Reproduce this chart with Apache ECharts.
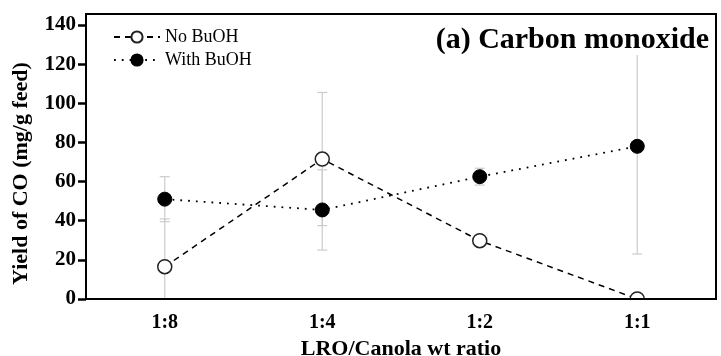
<!DOCTYPE html>
<html>
<head>
<meta charset="utf-8">
<script src="https://cdn.jsdelivr.net/npm/echarts@6/dist/echarts.min.js"></script>
<style>html,body{margin:0;padding:0;background:#fff}#c{width:721px;height:356px}</style>
</head>
<body>
<div id="c"></div>
<script>
const categories = ['1:8', '1:4', '1:2', '1:1'];
const noBuOH = [16.5, 71.5, 29.8, 0];
const noBuOHErr = [24.4, 34, 0, 0];
const withBuOH = [51, 45.5, 62.5, 78];
const withBuOHErr = [11.5, 20.5, 4.3, 55];
const yTicks = [0, 20, 40, 60, 80, 100, 120, 140];

const FONT = 'Liberation Serif';
const chart = echarts.init(document.getElementById('c'));

function errData(vals, errs) {
  return vals.map((v, i) => [i, v - errs[i], v + errs[i]]);
}
function renderErr(params, api) {
  const x = api.value(0);
  const lo = api.coord([x, api.value(1)]);
  const hi = api.coord([x, api.value(2)]);
  const hw = 5;
  const style = { stroke: '#cccccc', lineWidth: 1.2, fill: null };
  return {
    type: 'group',
    children: [
      { type: 'line', shape: { x1: lo[0], y1: lo[1], x2: hi[0], y2: hi[1] }, style },
      { type: 'line', shape: { x1: lo[0] - hw, y1: lo[1], x2: lo[0] + hw, y2: lo[1] }, style },
      { type: 'line', shape: { x1: hi[0] - hw, y1: hi[1], x2: hi[0] + hw, y2: hi[1] }, style }
    ]
  };
}

const option = {
  animation: false,
  backgroundColor: '#fff',
  grid: { left: 86, right: 5, top: 14, bottom: 57, outerBoundsMode: 'none', containLabel: false, show: true, borderColor: '#000', borderWidth: 2, backgroundColor: 'transparent' },
  title: {
    text: '(a) Carbon monoxide',
    right: 10, top: 25, padding: [0, 2, 0, 2],
    backgroundColor: '#fff',
    textStyle: { fontFamily: FONT, fontWeight: 'bold', fontSize: 30, color: '#000' }
  },
  legend: {
    data: ['No BuOH', 'With BuOH'],
    orient: 'vertical', left: 113, top: 28, padding: 0,
    itemWidth: 46, itemHeight: 14, itemGap: 5,
    textStyle: { fontFamily: FONT, fontSize: 18, color: '#000' }
  },
  xAxis: {
    type: 'category', data: categories, boundaryGap: true, z: 10,
    name: 'LRO/Canola wt ratio', nameLocation: 'middle', nameGap: 34,
    nameTextStyle: { fontFamily: FONT, fontWeight: 'bold', fontSize: 22, color: '#000' },
    axisLine: { lineStyle: { color: '#000', width: 2 } },
    axisTick: { alignWithLabel: true, length: 8, lineStyle: { color: '#000', width: 2.5 } },
    axisLabel: { fontFamily: FONT, fontWeight: 'bold', fontSize: 20, color: '#000', margin: 14 },
    splitLine: { show: false }
  },
  yAxis: {
    type: 'value', min: 0, max: 145.6, interval: 20, z: 10,
    name: 'Yield of CO (mg/g feed)', nameLocation: 'middle', nameGap: 54, nameRotate: 90,
    nameTextStyle: { fontFamily: FONT, fontWeight: 'bold', fontSize: 22, color: '#000', padding: [0, 34, 0, 0] },
    axisLine: { show: true, lineStyle: { color: '#000', width: 2 } },
    axisTick: { show: true, length: 8, lineStyle: { color: '#000', width: 2.5 }, customValues: yTicks },
    axisLabel: { fontFamily: FONT, fontWeight: 'bold', fontSize: 21, color: '#000', margin: 10, customValues: yTicks },
    splitLine: { show: false }
  },
  graphic: [
    { type: 'rect', z: 5, silent: true, left: 86, top: 300, shape: { width: 630, height: 10 }, style: { fill: '#fff' } }
  ],
  series: [
    { type: 'custom', name: 'errNo', renderItem: renderErr, data: errData(noBuOH, noBuOHErr), z: 1, clip: true, encode: { x: 0, y: [1, 2] } },
    { type: 'custom', name: 'errWith', renderItem: renderErr, data: errData(withBuOH, withBuOHErr), z: 1, clip: true, encode: { x: 0, y: [1, 2] } },
    {
      type: 'line', name: 'No BuOH', data: noBuOH, z: 3,
      symbol: 'circle', symbolSize: 14,
      itemStyle: { color: '#fff', borderColor: '#222', borderWidth: 1.5 },
      lineStyle: { color: '#000', width: 1.5, type: [6, 5] }
    },
    {
      type: 'line', name: 'With BuOH', data: withBuOH, z: 3,
      symbol: 'circle', symbolSize: 14,
      itemStyle: { color: '#000', borderColor: '#000', borderWidth: 1 },
      lineStyle: { color: '#000', width: 1.8, type: [1.8, 6] }
    }
  ]
};
chart.setOption(option);
</script>
</body>
</html>
